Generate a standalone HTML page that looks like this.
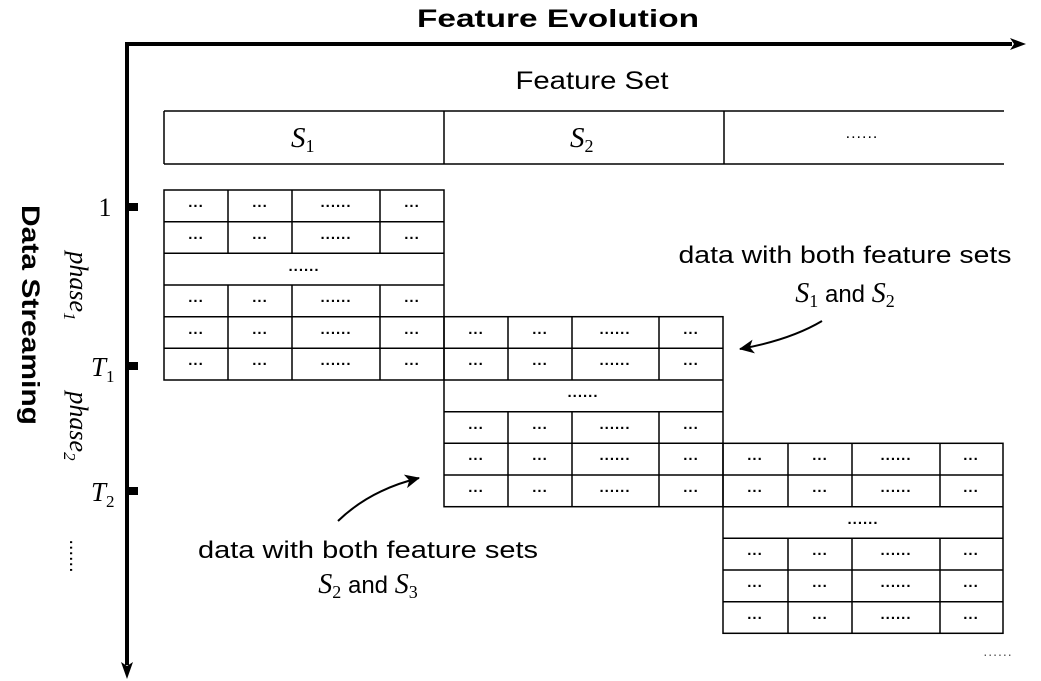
<!DOCTYPE html>
<html><head><meta charset="utf-8"><style>
html,body{margin:0;padding:0;background:#fff;width:1041px;height:681px;overflow:hidden}
svg{display:block}
.s{font-family:"Liberation Sans","DejaVu Sans",sans-serif}
.m{font-family:"Liberation Serif","DejaVu Serif",serif;font-style:italic}
.d{font-family:"Liberation Sans",sans-serif;font-size:15px;font-weight:bold;text-anchor:middle;letter-spacing:1px}
</style></head><body>
<svg width="1041" height="681" viewBox="0 0 1041 681" xmlns="http://www.w3.org/2000/svg">
<defs>
<marker id="bh" markerWidth="16" markerHeight="14" refX="14" refY="7" orient="auto" markerUnits="userSpaceOnUse"><path d="M0,0 L15,7 L0,14 L4,7 Z" fill="#000"/></marker>
</defs>
<line x1="125" y1="44" x2="1012" y2="44" stroke="#000" stroke-width="4"/>
<path d="M1010,38 L1026,44 L1010,50 L1014,44 Z" fill="#000"/>
<line x1="127" y1="42" x2="127" y2="665" stroke="#000" stroke-width="4"/>
<path d="M121,662 L127,679 L133,662 L127,666 Z" fill="#000"/>
<rect x="129" y="203" width="9" height="8" fill="#000"/>
<rect x="129" y="362" width="9" height="8" fill="#000"/>
<rect x="129" y="487" width="9" height="8" fill="#000"/>
<text class="s" x="558" y="27" font-size="25" font-weight="bold" text-anchor="middle" textLength="282" lengthAdjust="spacingAndGlyphs">Feature Evolution</text>
<text class="s" x="592" y="89" font-size="25" text-anchor="middle" textLength="153" lengthAdjust="spacingAndGlyphs">Feature Set</text>
<text class="s" transform="translate(22,315) rotate(90)" font-size="25" font-weight="bold" text-anchor="middle" textLength="220" lengthAdjust="spacingAndGlyphs">Data Streaming</text>
<text class="m" transform="translate(70,286) rotate(90)" font-size="26" text-anchor="middle">phase<tspan font-size="17" dy="6">1</tspan></text>
<text class="m" transform="translate(70,426) rotate(90)" font-size="26" text-anchor="middle">phase<tspan font-size="17" dy="6">2</tspan></text>
<text x="105" y="216" font-family="Liberation Serif,serif" font-size="26" text-anchor="middle">1</text>
<text class="m" x="91" y="376" font-size="27">T<tspan font-style="normal" font-size="17" dy="6">1</tspan></text>
<text class="m" x="91" y="501" font-size="27">T<tspan font-style="normal" font-size="17" dy="6">2</tspan></text>
<text transform="translate(70,556) rotate(90)" font-family="Liberation Sans,sans-serif" font-size="20" text-anchor="middle">......</text>
<g stroke="#000" stroke-width="1.5" fill="none">
<line x1="164" y1="111" x2="1004" y2="111"/><line x1="164" y1="164" x2="1004" y2="164"/>
<line x1="164" y1="111" x2="164" y2="164"/><line x1="444" y1="111" x2="444" y2="164"/><line x1="724" y1="111" x2="724" y2="164"/>
</g>
<text class="m" x="291" y="147" font-size="29">S<tspan font-style="normal" font-size="18" dy="5">1</tspan></text>
<text class="m" x="570" y="147" font-size="29">S<tspan font-style="normal" font-size="18" dy="5">2</tspan></text>
<text x="862" y="138" font-family="Liberation Sans,sans-serif" font-size="16" text-anchor="middle" letter-spacing="1">......</text>
<g stroke="#000" stroke-width="1.5" fill="none">
<rect x="164" y="190" width="280" height="190"/>
<line x1="164" y1="221.7" x2="444" y2="221.7"/><line x1="164" y1="253.3" x2="444" y2="253.3"/><line x1="164" y1="285" x2="444" y2="285"/><line x1="164" y1="316.7" x2="444" y2="316.7"/><line x1="164" y1="348.3" x2="444" y2="348.3"/>
<line x1="228" y1="190" x2="228" y2="253.3"/><line x1="292" y1="190" x2="292" y2="253.3"/><line x1="380" y1="190" x2="380" y2="253.3"/>
<line x1="228" y1="285" x2="228" y2="380"/><line x1="292" y1="285" x2="292" y2="380"/><line x1="380" y1="285" x2="380" y2="380"/>
<rect x="444" y="316.7" width="279" height="190"/>
<line x1="444" y1="348.3" x2="723" y2="348.3"/><line x1="444" y1="380" x2="723" y2="380"/><line x1="444" y1="411.7" x2="723" y2="411.7"/><line x1="444" y1="443.3" x2="723" y2="443.3"/><line x1="444" y1="475" x2="723" y2="475"/>
<line x1="508" y1="316.7" x2="508" y2="380"/><line x1="572" y1="316.7" x2="572" y2="380"/><line x1="659" y1="316.7" x2="659" y2="380"/>
<line x1="508" y1="411.7" x2="508" y2="506.7"/><line x1="572" y1="411.7" x2="572" y2="506.7"/><line x1="659" y1="411.7" x2="659" y2="506.7"/>
<rect x="723" y="443.3" width="280" height="190"/>
<line x1="723" y1="475" x2="1003" y2="475"/><line x1="723" y1="506.7" x2="1003" y2="506.7"/><line x1="723" y1="538.3" x2="1003" y2="538.3"/><line x1="723" y1="570" x2="1003" y2="570"/><line x1="723" y1="601.7" x2="1003" y2="601.7"/>
<line x1="788" y1="443.3" x2="788" y2="506.7"/><line x1="852" y1="443.3" x2="852" y2="506.7"/><line x1="940" y1="443.3" x2="940" y2="506.7"/>
<line x1="788" y1="538.3" x2="788" y2="633.3"/><line x1="852" y1="538.3" x2="852" y2="633.3"/><line x1="940" y1="538.3" x2="940" y2="633.3"/>
</g>
<g class="d">
<text x="196" y="207">...</text><text x="260" y="207">...</text><text x="336" y="207">......</text><text x="412" y="207">...</text>
<text x="196" y="239">...</text><text x="260" y="239">...</text><text x="336" y="239">......</text><text x="412" y="239">...</text>
<text x="304" y="271">......</text>
<text x="196" y="302">...</text><text x="260" y="302">...</text><text x="336" y="302">......</text><text x="412" y="302">...</text>
<text x="196" y="334">...</text><text x="260" y="334">...</text><text x="336" y="334">......</text><text x="412" y="334">...</text>
<text x="196" y="365">...</text><text x="260" y="365">...</text><text x="336" y="365">......</text><text x="412" y="365">...</text>
<text x="476" y="334">...</text><text x="540" y="334">...</text><text x="615" y="334">......</text><text x="691" y="334">...</text>
<text x="476" y="365">...</text><text x="540" y="365">...</text><text x="615" y="365">......</text><text x="691" y="365">...</text>
<text x="583" y="397">......</text>
<text x="476" y="429">...</text><text x="540" y="429">...</text><text x="615" y="429">......</text><text x="691" y="429">...</text>
<text x="476" y="460">...</text><text x="540" y="460">...</text><text x="615" y="460">......</text><text x="691" y="460">...</text>
<text x="476" y="492">...</text><text x="540" y="492">...</text><text x="615" y="492">......</text><text x="691" y="492">...</text>
<text x="755" y="460">...</text><text x="820" y="460">...</text><text x="896" y="460">......</text><text x="971" y="460">...</text>
<text x="755" y="492">...</text><text x="820" y="492">...</text><text x="896" y="492">......</text><text x="971" y="492">...</text>
<text x="863" y="524">......</text>
<text x="755" y="555">...</text><text x="820" y="555">...</text><text x="896" y="555">......</text><text x="971" y="555">...</text>
<text x="755" y="587">...</text><text x="820" y="587">...</text><text x="896" y="587">......</text><text x="971" y="587">...</text>
<text x="755" y="619">...</text><text x="820" y="619">...</text><text x="896" y="619">......</text><text x="971" y="619">...</text>
</g>
<text x="998" y="656" font-family="Liberation Sans,sans-serif" font-size="14" text-anchor="middle" fill="#555" letter-spacing="1">......</text>
<text class="s" x="845" y="263" font-size="24" text-anchor="middle" textLength="333" lengthAdjust="spacingAndGlyphs">data with both feature sets</text>
<text x="845" y="302" font-size="24" text-anchor="middle"><tspan class="m" font-size="28">S</tspan><tspan font-family="Liberation Serif,serif" font-size="18" dy="5">1</tspan><tspan class="s" dy="-5"> and </tspan><tspan class="m" font-size="28">S</tspan><tspan font-family="Liberation Serif,serif" font-size="18" dy="5">2</tspan></text>
<path d="M822,321 Q790,340 740,349" stroke="#000" stroke-width="2" fill="none" marker-end="url(#bh)"/>
<text class="s" x="368" y="558" font-size="24" text-anchor="middle" textLength="340" lengthAdjust="spacingAndGlyphs">data with both feature sets</text>
<text x="368" y="593" font-size="24" text-anchor="middle"><tspan class="m" font-size="28">S</tspan><tspan font-family="Liberation Serif,serif" font-size="18" dy="5">2</tspan><tspan class="s" dy="-5"> and </tspan><tspan class="m" font-size="28">S</tspan><tspan font-family="Liberation Serif,serif" font-size="18" dy="5">3</tspan></text>
<path d="M338,521 Q370,490 419,478" stroke="#000" stroke-width="2" fill="none" marker-end="url(#bh)"/>
</svg>
</body></html>
